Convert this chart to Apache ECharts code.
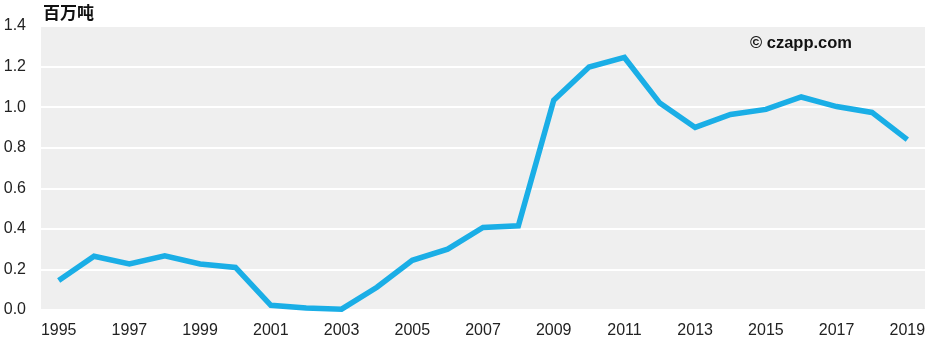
<!DOCTYPE html>
<html>
<head>
<meta charset="utf-8">
<script src="https://cdn.jsdelivr.net/npm/echarts@6/dist/echarts.min.js"></script>
<style>
    html, body { margin:0; padding:0; background:#ffffff; }
    #chart { width:948px; height:354px; }
</style>
</head>
<body>
<div id="chart"></div>
<script>
const years = [
    "1995","1996","1997","1998","1999","2000","2001","2002","2003","2004",
    "2005","2006","2007","2008","2009","2010","2011","2012","2013","2014",
    "2015","2016","2017","2018","2019"
];

const volume = [
    0.145, 0.265, 0.227, 0.267, 0.227, 0.21, 0.023, 0.01, 0.004, 0.112,
    0.245, 0.3, 0.407, 0.415, 1.034, 1.198, 1.245, 1.02, 0.9, 0.964,
    0.989, 1.05, 1.003, 0.974, 0.84
];

const yTicks = [0, 0.2, 0.4, 0.6, 0.8, 1.0, 1.2, 1.4];

const chart = echarts.init(document.getElementById("chart"));

chart.setOption({
    animation:false,
    textStyle:{
        fontFamily:"Liberation Sans, Arial, sans-serif"
    },
    grid:{
        left:41,
        right:23,
        top:26,
        bottom:44,
        show:true,
        backgroundColor:"#efefef",
        borderWidth:0
    },
    graphic:[
        {
            type:"text",
            left:43,
            top:4,
            style:{
                text:"百万吨",
                font:"bold 17px 'Noto Sans CJK SC', sans-serif",
                fill:"#111"
            }
        },
        {
            type:"text",
            left:750,
            top:35,
            style:{
                text:"© czapp.com",
                font:"bold 16.5px 'Liberation Sans', Arial, sans-serif",
                fill:"#111"
            }
        }
    ],
    xAxis:{
        type:"category",
        data:years,
        boundaryGap:true,
        axisLine:{ show:false },
        axisTick:{ show:false },
        axisLabel:{
            interval:1,
            color:"#222",
            fontSize:16,
            margin:13
        }
    },
    yAxis:{
        type:"value",
        min:yTicks[0],
        max:yTicks[yTicks.length - 1],
        interval:0.2,
        axisLine:{ show:false },
        axisTick:{ show:false },
        axisLabel:{
            color:"#222",
            fontSize:16,
            margin:15,
            formatter:v => v.toFixed(1)
        },
        splitLine:{
            lineStyle:{ color:"#ffffff", width:2 }
        }
    },
    series:[
        {
            type:"line",
            data:volume,
            symbol:"none",
            lineStyle:{
                color:"#1aaee6",
                width:5.5,
                join:"miter"
            }
        }
    ]
});
</script>
</body>
</html>
